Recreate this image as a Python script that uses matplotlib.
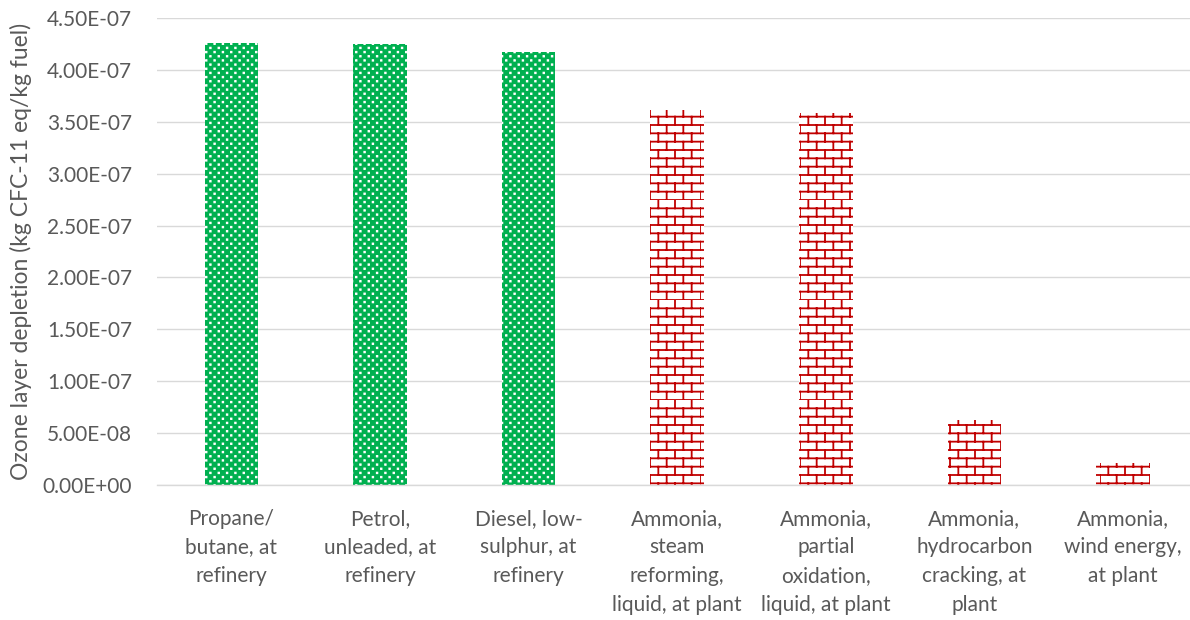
import warnings
import numpy as np
import matplotlib
matplotlib.use("Agg")
import matplotlib.pyplot as plt
import matplotlib.hatch as mhatch
from matplotlib.path import Path
from matplotlib.ticker import FuncFormatter

warnings.filterwarnings("ignore")

labels = [
    "Propane/\nbutane, at\nrefinery",
    "Petrol,\nunleaded, at\nrefinery",
    "Diesel, low-\nsulphur, at\nrefinery",
    "Ammonia,\nsteam\nreforming,\nliquid, at plant",
    "Ammonia,\npartial\noxidation,\nliquid, at plant",
    "Ammonia,\nhydrocarbon\ncracking, at\nplant",
    "Ammonia,\nwind energy,\nat plant",
]
values = [4.26e-7, 4.25e-7, 4.17e-7, 3.61e-7, 3.585e-7, 6.26e-8, 2.12e-8]
is_fossil = [True, True, True, False, False, False, False]

GREEN = "#00B050"
RED = "#C00000"
GREY = "#595959"
GRID = "#D9D9D9"


class BrickHatch(mhatch.HatchPatternBase):
    # 'b' -> brick wall: horizontal courses with staggered joints
    def __init__(self, hatch, density):
        self.rows = hatch.count('b') * density * 2
        self.cols = self.rows // 2
        self.num_vertices = self.rows * 2 + self.rows * self.cols * 2

    def set_vertices_and_codes(self, vertices, codes):
        k = 0
        for i in range(self.rows):
            y0 = i / self.rows
            y1 = (i + 1) / self.rows
            vertices[k] = (0.0, y0)
            vertices[k + 1] = (1.0, y0)
            codes[k] = Path.MOVETO
            codes[k + 1] = Path.LINETO
            k += 2
            shift = 0.5 * (i % 2)
            for j in range(self.cols):
                x = (j + shift) / self.cols
                vertices[k] = (x, y0)
                vertices[k + 1] = (x, y1)
                codes[k] = Path.MOVETO
                codes[k + 1] = Path.LINETO
                k += 2


class DotHatch(mhatch.HatchPatternBase):
    # 'd' -> small square dots, staggered rows
    def __init__(self, hatch, density):
        self.cols = hatch.count('d') * density * 2
        self.rows = self.cols * 2
        self.num_vertices = self.rows * self.cols * 5

    def set_vertices_and_codes(self, vertices, codes):
        s = 0.003
        k = 0
        for i in range(self.rows):
            y = (i + 0.5) / self.rows
            shift = 0.5 * (i % 2)
            for j in range(self.cols):
                x = (j + 0.25 + shift) / self.cols
                vertices[k:k + 5] = [(x - s, y - s), (x + s, y - s),
                                     (x + s, y + s), (x - s, y + s), (x - s, y - s)]
                codes[k:k + 5] = [Path.MOVETO, Path.LINETO, Path.LINETO,
                                  Path.LINETO, Path.CLOSEPOLY]
                k += 5


mhatch._hatch_types.append(BrickHatch)
mhatch._hatch_types.append(DotHatch)

plt.rcParams['font.family'] = ['Lato', 'DejaVu Sans']
plt.rcParams['hatch.linewidth'] = 1.3

fig = plt.figure(figsize=(11.9, 6.2), dpi=100)
ax = fig.add_axes([157.2 / 1190, 1 - 485 / 620, 1040 / 1190, (485 - 18) / 620])

x = np.arange(len(values))
for xi, v, fossil in zip(x, values, is_fossil):
    if fossil:
        ax.bar(xi, v, width=0.36, color=GREEN, edgecolor="white", linewidth=0, hatch="d")
    else:
        ax.bar(xi, v, width=0.36, color="white", edgecolor=RED, linewidth=0, hatch="b")

ax.set_xlim(-0.5, len(values) - 0.5)
ax.set_ylim(0, 4.5e-7)
ax.set_yticks(np.arange(0, 4.51e-7, 0.5e-7))
ax.yaxis.set_major_formatter(FuncFormatter(lambda v, p: f"{v:.2E}"))
ax.set_xticks(x)
ax.set_xticklabels(labels, linespacing=1.55)

ax.grid(axis="y", color=GRID, linewidth=1.0)
ax.set_axisbelow(True)
for side in ["top", "right", "left"]:
    ax.spines[side].set_visible(False)
ax.spines["bottom"].set_color(GRID)
ax.spines["bottom"].set_linewidth(1.0)

ax.tick_params(axis="y", length=0, pad=18, labelsize=15, labelcolor=GREY)
ax.tick_params(axis="x", length=0, pad=17, labelsize=15, labelcolor=GREY)
ax.set_ylabel("Ozone layer depletion (kg CFC-11 eq/kg fuel)", fontsize=16.5, color=GREY, labelpad=8)

fig.savefig("out.png", dpi=100)
